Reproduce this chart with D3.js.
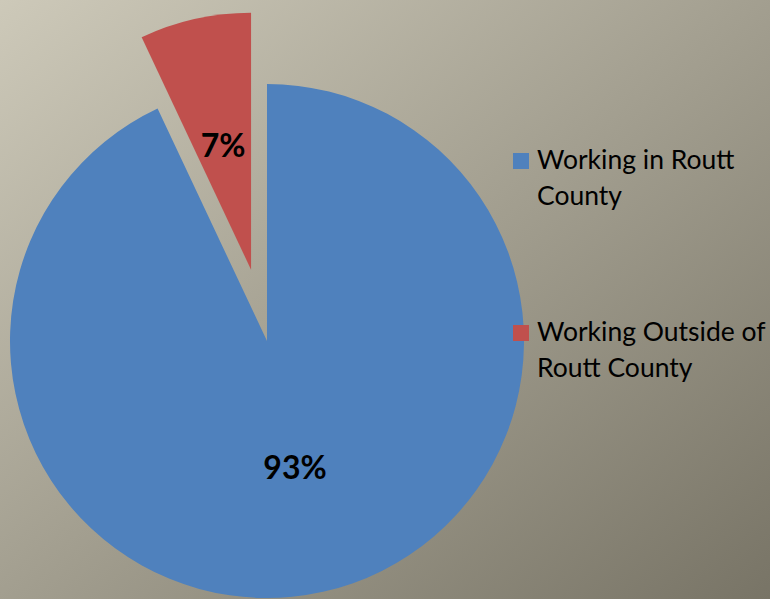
<!DOCTYPE html>
<html><head><meta charset="utf-8">
<script src="https://cdn.jsdelivr.net/npm/d3@7"></script>
<style>html,body{margin:0;padding:0;overflow:hidden;}</style>
</head><body>
<svg id="chart" width="770" height="599"></svg>
<script>
const categories = ["Working in Routt County", "Working Outside of Routt County"];
const legendLines = [["Working in Routt", "County"], ["Working Outside of", "Routt County"]];
const values = [93, 7];
const labels = ["93%", "7%"];
const colors = ["#4f81bd", "#c0504d"];

const svg = d3.select("#chart");
const defs = svg.append("defs");
const grad = defs.append("linearGradient").attr("id", "bg")
  .attr("x1", "0%").attr("y1", "0%").attr("x2", "100%").attr("y2", "100%");
grad.append("stop").attr("offset", "0%").attr("stop-color", "#cdc9b9");
grad.append("stop").attr("offset", "100%").attr("stop-color", "#787466");
svg.append("rect").attr("width", 770).attr("height", 599).attr("fill", "url(#bg)");

const cx = 267, cy = 341, r = 257, explode = 73;
const pie = d3.pie().sort(null).value(d => d)
  .startAngle(0).endAngle(2 * Math.PI);
const arcs = pie(values);
const arc = d3.arc().innerRadius(0).outerRadius(r);

const g = svg.append("g").attr("transform", `translate(${cx},${cy})`);
arcs.forEach((a, i) => {
  const mid = (a.startAngle + a.endAngle) / 2;
  const off = i === 1 ? explode : 0;
  const dx = Math.sin(mid) * off, dy = -Math.cos(mid) * off;
  const sg = g.append("g").attr("transform", `translate(${dx},${dy})`);
  sg.append("path").attr("d", arc(a)).attr("fill", colors[i]);
  const c = arc.centroid(a);
  sg.append("text").attr("x", c[0]).attr("y", c[1])
    .attr("text-anchor", "middle").attr("dominant-baseline", "central")
    .attr("font-family", "Lato, 'Open Sans', sans-serif")
    .attr("font-weight", "bold").attr("font-size", 32)
    .attr("fill", "#000").text(labels[i]);
});

const legendY = [153, 325];
categories.forEach((c, i) => {
  const lg = svg.append("g");
  lg.append("rect").attr("x", 513).attr("y", legendY[i]).attr("width", 16).attr("height", 16)
    .attr("fill", colors[i]);
  legendLines[i].forEach((t, j) => {
    lg.append("text").attr("x", 537).attr("y", legendY[i] + 16 + j * 36)
      .attr("font-family", "Lato, 'Open Sans', sans-serif")
      .attr("font-size", 26.5).attr("fill", "#000").text(t);
  });
});
</script>
</body></html>
